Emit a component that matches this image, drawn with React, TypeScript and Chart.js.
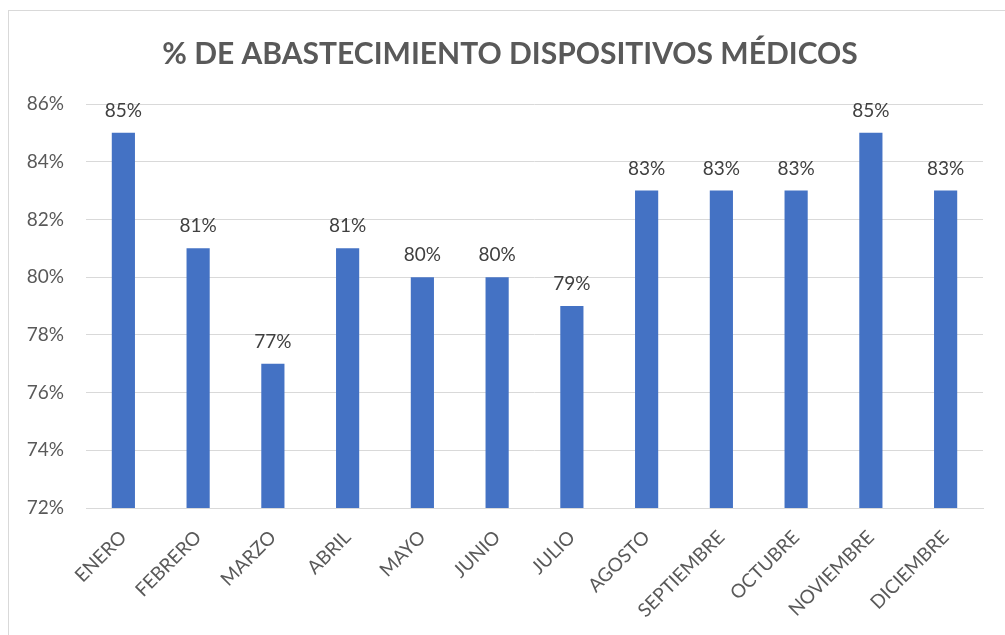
import React, { useEffect, useRef } from "react";
import { Chart, registerables } from "chart.js";

Chart.register(...registerables);

const TITLE = "% DE ABASTECIMIENTO DISPOSITIVOS MÉDICOS";
const MONTHS = [
  "ENERO", "FEBRERO", "MARZO", "ABRIL", "MAYO", "JUNIO",
  "JULIO", "AGOSTO", "SEPTIEMBRE", "OCTUBRE", "NOVIEMBRE", "DICIEMBRE",
];
const VALUES = [85, 81, 77, 81, 80, 80, 79, 83, 83, 83, 85, 83];
const Y_MIN = 72;
const Y_MAX = 86;
const Y_STEP = 2;

const FONT = "Lato, 'Open Sans', sans-serif";
const TEXT = "#595959";

const dataLabels = {
  id: "dataLabels",
  afterDatasetsDraw(chart: any) {
    const ctx = chart.ctx;
    const meta = chart.getDatasetMeta(0);
    ctx.save();
    ctx.font = `19px ${FONT}`;
    ctx.fillStyle = "#404040";
    ctx.textAlign = "center";
    ctx.textBaseline = "middle";
    meta.data.forEach((bar: any, i: number) => {
      ctx.fillText(`${VALUES[i]}%`, bar.x, bar.y - 22);
    });
    ctx.restore();
  },
};

const titlePlugin = {
  id: "centeredTitle",
  afterDraw(chart: any) {
    const ctx = chart.ctx;
    ctx.save();
    ctx.font = `bold 30px ${FONT}`;
    ctx.fillStyle = TEXT;
    ctx.textAlign = "center";
    ctx.textBaseline = "middle";
    ctx.fillText(TITLE, 510, 54);
    ctx.restore();
  },
};

export default function App() {
  const ref = useRef<HTMLCanvasElement>(null);
  useEffect(() => {
    if (!ref.current) return;
    const chart = new Chart(ref.current, {
      type: "bar",
      data: {
        labels: MONTHS,
        datasets: [
          {
            data: VALUES,
            backgroundColor: "#4472C4",
            barPercentage: 0.31,
            categoryPercentage: 1,
          },
        ],
      },
      options: {
        animation: false,
        responsive: false,
        maintainAspectRatio: false,
        layout: { padding: { left: 0, right: 22, top: 104, bottom: 0 } },
        plugins: {
          legend: { display: false },
          tooltip: { enabled: false },
          title: { display: false },
        },
        scales: {
          x: {
            grid: { display: false, drawTicks: false },
            border: { display: true, color: "#d9d9d9", width: 1 },
            ticks: {
              color: TEXT,
              font: { family: FONT, size: 19 },
              maxRotation: 45,
              minRotation: 45,
              padding: 18,
            },
            afterFit(scale: any) {
              scale.height = 127;
            },
          },
          y: {
            min: Y_MIN,
            max: Y_MAX,
            grid: { color: "#d9d9d9", drawTicks: false, lineWidth: 1 },
            border: { display: false },
            ticks: {
              stepSize: Y_STEP,
              color: TEXT,
              font: { family: FONT, size: 19 },
              padding: 22,
              callback: (v: any) => `${v}%`,
            },
            afterFit(scale: any) {
              scale.width = 86;
            },
          },
        },
      },
      plugins: [dataLabels, titlePlugin],
    });
    return () => chart.destroy();
  }, []);
  return (
    <div style={{ position: "fixed", left: 0, top: 0, width: 1005, height: 635, background: "#fff" }}>
      <div
        style={{
          position: "absolute",
          left: 8,
          top: 10,
          width: 1010,
          height: 640,
          border: "1px solid #d9d9d9",
          boxSizing: "border-box",
        }}
      />
      <canvas ref={ref} width={1005} height={635} style={{ position: "absolute", left: 0, top: 0 }} />
    </div>
  );
}
